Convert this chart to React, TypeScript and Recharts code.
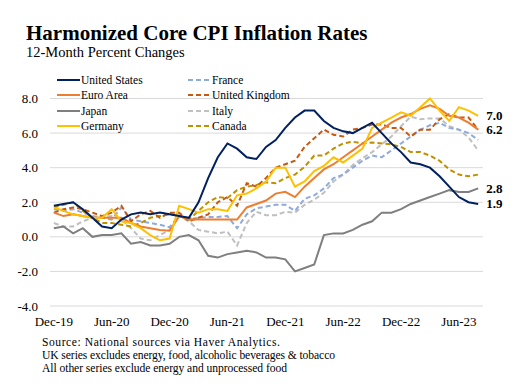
import { LineChart, Line, XAxis, YAxis, CartesianGrid, LabelList } from "recharts";

const months = [
  "Dec-19", "Jan-20", "Feb-20", "Mar-20", "Apr-20", "May-20", "Jun-20", "Jul-20", "Aug-20", "Sep-20", "Oct-20", "Nov-20",
  "Dec-20", "Jan-21", "Feb-21", "Mar-21", "Apr-21", "May-21", "Jun-21", "Jul-21", "Aug-21", "Sep-21", "Oct-21", "Nov-21",
  "Dec-21", "Jan-22", "Feb-22", "Mar-22", "Apr-22", "May-22", "Jun-22", "Jul-22", "Aug-22", "Sep-22", "Oct-22", "Nov-22",
  "Dec-22", "Jan-23", "Feb-23", "Mar-23", "Apr-23", "May-23", "Jun-23", "Jul-23", "Aug-23",
];
const tickMonths = ["Dec-19", "Jun-20", "Dec-20", "Jun-21", "Dec-21", "Jun-22", "Dec-22", "Jun-23"];
const yTicks = [-4, -2, 0, 2, 4, 6, 8];

const unitedStates = [1.8, 1.9, 2.0, 1.6, 1.1, 0.6, 0.5, 1.0, 1.3, 1.4, 1.3, 1.4, 1.3, 1.2, 1.1, 2.0, 3.4, 4.6, 5.4, 5.1, 4.6, 4.5, 5.2, 5.6, 6.3, 6.9, 7.3, 7.3, 6.7, 6.3, 6.1, 6.0, 6.3, 6.6, 6.0, 5.4, 4.9, 4.3, 4.2, 4.0, 3.5, 2.9, 2.3, 2.0, 1.9];
const euroArea = [1.4, 1.2, 1.3, 1.2, 1.1, 1.1, 1.1, 1.1, 0.8, 0.6, 0.5, 0.4, 0.35, 1.2, 1.0, 1.0, 1.0, 1.0, 1.0, 1.0, 1.7, 1.9, 2.1, 2.5, 2.6, 2.3, 2.9, 3.4, 3.9, 4.2, 4.6, 5.0, 5.4, 5.8, 6.2, 6.6, 6.9, 7.1, 7.4, 7.6, 7.4, 7.0, 6.9, 6.6, 6.2];
const japan = [0.5, 0.6, 0.2, 0.5, 0.0, 0.1, 0.1, 0.2, -0.4, -0.3, -0.5, -0.5, -0.4, 0.0, 0.1, -0.2, -1.1, -1.2, -1.0, -0.9, -0.8, -0.9, -1.2, -1.2, -1.3, -2.0, -1.8, -1.6, 0.1, 0.2, 0.2, 0.4, 0.7, 0.9, 1.4, 1.4, 1.6, 1.9, 2.1, 2.3, 2.5, 2.7, 2.6, 2.6, 2.8];
const germany = [1.7, 1.5, 1.3, 1.2, 1.1, 1.1, 1.6, 0.9, 0.8, 0.5, 0.1, -0.2, -0.1, 1.8, 1.6, 1.4, 1.6, 1.6, 1.5, 2.4, 2.5, 2.8, 3.2, 4.0, 4.0, 2.9, 3.2, 3.8, 4.1, 4.6, 4.3, 4.7, 5.1, 6.3, 6.6, 6.9, 7.2, 7.0, 7.5, 8.0, 7.3, 6.7, 7.5, 7.3, 7.0];
const france = [1.6, 1.5, 1.6, 1.4, 1.2, 1.1, 1.0, 1.7, 1.0, 0.9, 0.8, 0.7, 0.55, 1.25, 1.0, 1.1, 1.15, 1.15, 1.2, 0.5, 1.3, 1.65, 1.75, 1.85, 1.85, 1.5, 2.2, 2.4, 2.8, 3.4, 3.6, 4.0, 4.4, 4.7, 4.6, 5.0, 5.4, 5.8, 6.2, 6.45, 6.6, 6.3, 6.2, 6.0, 5.6];
const unitedKingdom = [1.4, 1.6, 1.7, 1.6, 1.4, 1.2, 1.4, 1.8, 0.9, 1.3, 1.5, 1.1, 1.4, 1.4, 0.9, 1.1, 1.3, 2.0, 2.3, 1.8, 3.1, 2.9, 3.4, 4.0, 4.2, 4.4, 5.2, 5.7, 6.2, 5.9, 5.8, 6.2, 6.3, 6.5, 6.5, 6.3, 6.3, 5.8, 6.2, 6.2, 6.8, 7.1, 6.9, 6.9, 6.2];
const italy = [0.8, 0.6, 0.6, 0.9, 1.1, 1.15, 1.2, 1.0, 0.5, -0.1, -0.2, 0.1, 0.4, 1.2, 0.9, 0.4, 0.3, 0.2, 0.3, -0.5, 0.8, 1.45, 1.25, 1.25, 1.45, 1.4, 1.85, 2.15, 2.55, 3.2, 3.6, 4.15, 4.55, 4.9, 5.35, 5.8, 6.4, 6.95, 6.8, 6.85, 6.85, 6.4, 6.2, 5.75, 5.0];
const canada = [1.7, 1.85, 2.0, 1.5, 1.1, 0.8, 0.8, 0.7, 0.6, 0.8, 1.1, 1.2, 1.3, 1.2, 1.0, 1.5, 2.0, 2.3, 2.25, 2.7, 2.9, 3.0, 3.15, 3.1, 3.4, 3.6, 4.05, 4.7, 4.7, 5.1, 5.4, 5.5, 5.4, 5.45, 5.4, 5.35, 5.2, 4.9, 4.9, 4.7, 4.4, 3.9, 3.6, 3.5, 3.6];

const notes = [
  "Source: National sources via Haver Analytics.",
  "UK series excludes energy, food, alcoholic beverages & tobacco",
  "All other series exclude energy and unprocessed food",
];

const data = months.map((m, i) => ({
  i,
  month: m,
  us: unitedStates[i],
  ea: euroArea[i],
  japan: japan[i],
  germany: germany[i],
  france: france[i],
  uk: unitedKingdom[i],
  italy: italy[i],
  canada: canada[i],
}));

const DASH = "5 3";

// legend order (two columns, read left to right)
const series = [
  { key: "us", name: "United States", color: "#002060", dash: undefined, endLabel: true },
  { key: "france", name: "France", color: "#8FAADC", dash: DASH, endLabel: false },
  { key: "ea", name: "Euro Area", color: "#ED7D31", dash: undefined, endLabel: true },
  { key: "uk", name: "United Kingdom", color: "#C55A11", dash: DASH, endLabel: false },
  { key: "japan", name: "Japan", color: "#7F7F7F", dash: undefined, endLabel: true },
  { key: "italy", name: "Italy", color: "#BFBFBF", dash: DASH, endLabel: false },
  { key: "germany", name: "Germany", color: "#FFC000", dash: undefined, endLabel: true },
  { key: "canada", name: "Canada", color: "#BF9000", dash: DASH, endLabel: false },
];
const drawOrder = ["italy", "france", "canada", "uk", "japan", "ea", "germany", "us"];

const FONT = '"Liberation Serif", "Times New Roman", serif';
const last = months.length - 1;

// footnote line widths as in the original (justified-looking spacing)
const noteWidths = [238, 293, 245];

const EndLabel = (props: any) => {
  const { x, y, index, value } = props;
  if (index !== last) return null;
  return (
    <text x={x + 8} y={y} dominantBaseline="central" fontFamily={FONT} fontSize={13} fontWeight="bold" fill="#000">
      {Number(value).toFixed(1)}
    </text>
  );
};

const App = () => (
  <div style={{ position: "absolute", left: 0, top: 0, width: 524, height: 384, background: "#fff", fontFamily: FONT, color: "#000" }}>
    <div style={{ position: "absolute", left: 26, top: 23.4, fontSize: 21, fontWeight: "bold", lineHeight: "21px", whiteSpace: "nowrap" }}>
      Harmonized Core CPI Inflation Rates
    </div>
    <div style={{ position: "absolute", left: 26, top: 45.4, fontSize: 14.5, lineHeight: "14.5px", whiteSpace: "nowrap" }}>
      12-Month Percent Changes
    </div>

    <LineChart width={524} height={384} data={data} margin={{ top: 98.5, right: 41, bottom: 48, left: 0 }}>
      <CartesianGrid vertical={false} stroke="#D9D9D9" />
      <XAxis
        type="number"
        dataKey="i"
        domain={[-0.4, 44.5]}
        ticks={tickMonths.map((m) => months.indexOf(m))}
        tickFormatter={(v) => months[v]}
        axisLine={false}
        tickLine={false}
        height={30}
        tickMargin={5}
        tick={{ fontFamily: FONT, fontSize: 13, fill: "#000" }}
      />
      <YAxis
        type="number"
        domain={[-4, 8]}
        ticks={yTicks}
        tickFormatter={(v) => Number(v).toFixed(1)}
        axisLine={false}
        tickLine={false}
        width={50}
        tickMargin={6}
        tick={{ fontFamily: FONT, fontSize: 13, fill: "#000" }}
      />
      {drawOrder.map((k) => {
        const s = series.find((d) => d.key === k)!;
        return (
          <Line
            key={s.key}
            type="linear"
            dataKey={s.key}
            stroke={s.color}
            strokeWidth={2}
            strokeDasharray={s.dash}
            dot={false}
            isAnimationActive={false}
          >
            {s.endLabel && <LabelList dataKey={s.key} content={EndLabel} />}
          </Line>
        );
      })}
    </LineChart>

    {/* legend */}
    <div style={{ position: "absolute", left: 57, top: 72.5, width: 270, display: "grid", gridTemplateColumns: "131px 131px" }}>
      {series.map((s) => (
        <div key={s.key} style={{ display: "flex", alignItems: "center", height: 15.3, fontSize: 11.5, whiteSpace: "nowrap" }}>
          <svg width={23} height={6} style={{ marginRight: 1 }}>
            <line x1={0} y1={3} x2={23} y2={3} stroke={s.color} strokeWidth={2} strokeDasharray={s.dash} />
          </svg>
          <span>{s.name}</span>
        </div>
      ))}
    </div>

    {/* notes */}
    <svg width={524} height={50} style={{ position: "absolute", left: 0, top: 334 }}>
      {notes.map((t, i) => (
        <text
          key={i}
          x={42}
          y={11.5 + i * 13}
          fontFamily={FONT}
          fontSize={11.6}
          fill="#000"
          textLength={noteWidths[i]}
          lengthAdjust="spacing"
        >
          {t}
        </text>
      ))}
    </svg>
  </div>
);

export default App;
